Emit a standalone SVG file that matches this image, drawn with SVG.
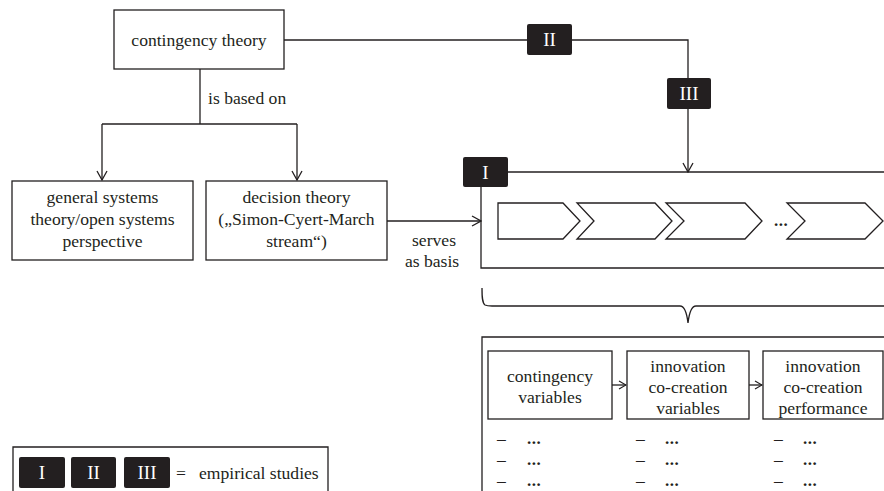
<svg xmlns="http://www.w3.org/2000/svg" width="884" height="491" viewBox="0 0 884 491" font-family="'Liberation Serif', 'DejaVu Serif', serif">
  <defs>
    <style>
      .box { fill: #ffffff; stroke: #231f20; stroke-width: 1.3; }
      .ln { fill: none; stroke: #231f20; stroke-width: 1.3; }
      .badge { fill: #231f20; }
      text { font-family: 'Liberation Serif', 'DejaVu Serif', serif; }
      .t { font-size: 17.6px; fill: #231f20; }
      .c { text-anchor: middle; }
      .bt { font-size: 19px; fill: #ffffff; text-anchor: middle; }
      .dots { font-size: 17px; font-weight: bold; fill: #231f20; letter-spacing: 0.5px; }
    </style>
    <marker id="arr" viewBox="-10 -6 11 12" refX="0" refY="0" markerWidth="11" markerHeight="12" markerUnits="userSpaceOnUse" orient="auto">
      <path d="M-9,-5 L0,0 L-9,5" fill="none" stroke="#231f20" stroke-width="1.3"/>
    </marker>
    <marker id="arrs" viewBox="-8 -5 9 10" refX="0" refY="0" markerWidth="9" markerHeight="10" markerUnits="userSpaceOnUse" orient="auto">
      <path d="M-7,-4 L0,0 L-7,4" fill="none" stroke="#231f20" stroke-width="1.2"/>
    </marker>
  </defs>

  <rect width="884" height="491" fill="#ffffff"/>

  <!-- connectors -->
  <g id="connectors">
    <path class="ln" d="M284,40 H527"/>
    <path class="ln" d="M572,40 H688 V78"/>
    <path class="ln" d="M688,109 V172" marker-end="url(#arr)"/>
    <path class="ln" d="M200,69 V124"/>
    <path class="ln" d="M102,124 H297"/>
    <path class="ln" d="M102,124 V180" marker-end="url(#arr)"/>
    <path class="ln" d="M297,124 V180" marker-end="url(#arr)"/>
    <path class="ln" d="M387,221 H481" marker-end="url(#arr)"/>
    <path class="ln" d="M612,385 H626" marker-end="url(#arrs)"/>
    <path class="ln" d="M749,385 H762" marker-end="url(#arrs)"/>
    <text class="t" x="208" y="104">is based on</text>
    <text class="t c" x="434" y="246">serves</text>
    <text class="t c" x="432" y="267">as basis</text>
  </g>

  <!-- contingency theory -->
  <g id="contingency-theory">
    <rect class="box" x="114" y="10" width="170" height="59"/>
    <text class="t c" x="199" y="46">contingency theory</text>
  </g>

  <!-- general systems theory -->
  <g id="general-systems">
    <rect class="box" x="12" y="181" width="181" height="79"/>
    <text class="t c" x="102.5" y="203">general systems</text>
    <text class="t c" x="102.5" y="225">theory/open systems</text>
    <text class="t c" x="102.5" y="247">perspective</text>
  </g>

  <!-- decision theory -->
  <g id="decision-theory">
    <rect class="box" x="206" y="181" width="181" height="79"/>
    <text class="t c" x="296.5" y="203">decision theory</text>
    <text class="t c" x="296.5" y="225">(„Simon-Cyert-March</text>
    <text class="t c" x="296.5" y="247">stream“)</text>
  </g>

  <!-- study II on the top line -->
  <g id="study-II">
    <rect class="badge" x="527" y="24" width="45" height="31" rx="2"/>
    <text class="bt" x="549.5" y="46">II</text>
  </g>

  <!-- study III on the vertical line -->
  <g id="study-III">
    <rect class="badge" x="667" y="78" width="44" height="31" rx="2"/>
    <text class="bt" x="689" y="100">III</text>
  </g>

  <!-- process frame with study I -->
  <g id="process-frame">
    <path class="ln" d="M508,172 H884"/>
    <path class="ln" d="M481,187 V268 H884"/>
    <rect class="badge" x="463" y="157" width="45" height="30" rx="2"/>
    <text class="bt" x="485.5" y="179">I</text>
    <path class="box" d="M498,203 H563 L580,221 L563,239 H498 Z"/>
    <path class="box" d="M577,203 H655 L672,221 L655,239 H577 L594,221 Z"/>
    <path class="box" d="M666,203 H745 L762,221 L745,239 H666 L684,221 Z"/>
    <text class="dots" x="774" y="226">...</text>
    <path class="box" d="M787,203 H865 L883,221 L865,239 H787 L805,221 Z"/>
  </g>

  <!-- brace -->
  <g id="brace">
    <path class="ln" d="M482,288 C482,296 482,303 485,305 Q487,306 492,306 H680 Q686,306 688,323 Q690,306 696,306 H884"/>
  </g>

  <!-- variables frame -->
  <g id="variables-frame">
    <path class="ln" d="M482,491 V337 H884"/>
  </g>

  <g id="contingency-variables">
    <rect class="box" x="488" y="351" width="124" height="68"/>
    <text class="t c" x="550" y="382">contingency</text>
    <text class="t c" x="550" y="403">variables</text>
    <text class="t" x="497" y="444">–</text>
    <text class="dots" x="527" y="444">...</text>
    <text class="t" x="497" y="465">–</text>
    <text class="dots" x="527" y="465">...</text>
    <text class="t" x="497" y="486">–</text>
    <text class="dots" x="527" y="486">...</text>
  </g>

  <g id="co-creation-variables">
    <rect class="box" x="627" y="351" width="122" height="68"/>
    <text class="t c" x="688" y="372">innovation</text>
    <text class="t c" x="688" y="393">co-creation</text>
    <text class="t c" x="688" y="414">variables</text>
    <text class="t" x="636" y="444">–</text>
    <text class="dots" x="665" y="444">...</text>
    <text class="t" x="636" y="465">–</text>
    <text class="dots" x="665" y="465">...</text>
    <text class="t" x="636" y="486">–</text>
    <text class="dots" x="665" y="486">...</text>
  </g>

  <g id="co-creation-performance">
    <rect class="box" x="763" y="351" width="120" height="68"/>
    <text class="t c" x="823" y="372">innovation</text>
    <text class="t c" x="823" y="393">co-creation</text>
    <text class="t c" x="823" y="414">performance</text>
    <text class="t" x="774" y="444">–</text>
    <text class="dots" x="803" y="444">...</text>
    <text class="t" x="774" y="465">–</text>
    <text class="dots" x="803" y="465">...</text>
    <text class="t" x="774" y="486">–</text>
    <text class="dots" x="803" y="486">...</text>
  </g>

  <!-- legend -->
  <g id="legend">
    <path class="ln" d="M13,491 V447 H328 V491"/>
    <rect class="badge" x="19" y="457" width="46" height="31" rx="2"/>
    <text class="bt" x="42" y="479">I</text>
    <rect class="badge" x="71" y="457" width="45" height="31" rx="2"/>
    <text class="bt" x="93.5" y="479">II</text>
    <rect class="badge" x="124" y="457" width="46" height="31" rx="2"/>
    <text class="bt" x="147" y="479">III</text>
    <text class="t" x="176" y="479">=</text>
    <text class="t" x="199" y="479">empirical studies</text>
  </g>
</svg>
